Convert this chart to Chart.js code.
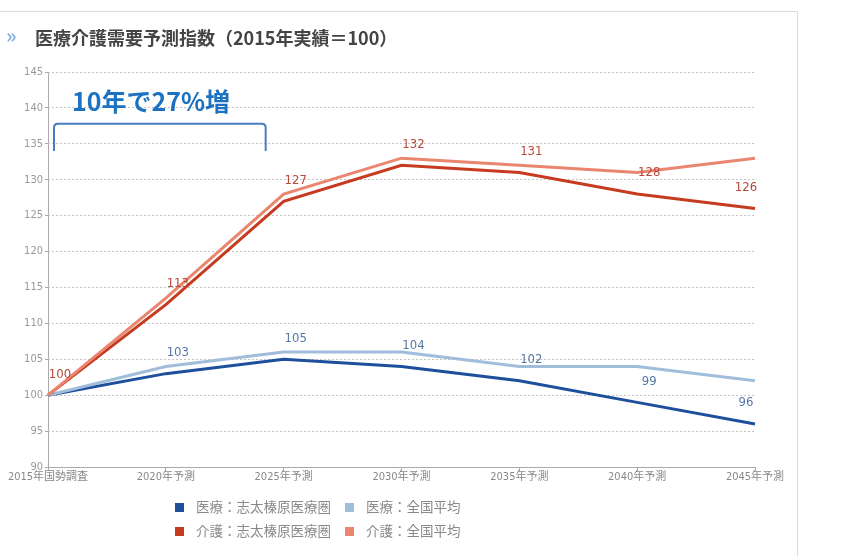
<!DOCTYPE html>
<html>
<head>
<meta charset="utf-8">
<script src="https://cdn.jsdelivr.net/npm/chart.js@4"></script>
<style>
  html, body { margin: 0; padding: 0; background: #fff; }
  #wrap { position: relative; width: 854px; height: 556px; overflow: hidden;
          font-family: "Noto Sans CJK JP", "Noto Sans", sans-serif; }
  #frame { position: absolute; left: -1px; top: 11px; width: 798px; height: 560px;
           border-top: 1px solid #dcdcdc; border-right: 1px solid #dcdcdc; }
  #title { position: absolute; left: 35px; top: 24px; font-size: 18px; font-weight: bold;
           color: #444; white-space: nowrap; line-height: 26px; }
  #mark { position: absolute; left: 6px; top: 22px; font-size: 20px; font-weight: bold;
          color: #8ab2dc; line-height: 26px; }
  #note { position: absolute; left: 72px; top: 85px; font-size: 25px; font-weight: bold;
          color: #1b72c2; white-space: nowrap; line-height: 30px; }
  .lg { position: absolute; font-size: 13.5px; color: #8a8a8a; white-space: nowrap; line-height: 18px; }
  .lg i { display: inline-block; width: 9px; height: 9px; margin-right: 12px; vertical-align: 0px; }
  canvas { position: absolute; left: 0; top: 0; }
</style>
</head>
<body>
<div id="wrap">
  <div id="frame"></div>
  <canvas id="myChart" width="854" height="556"></canvas>
  <div id="mark">»</div>
  <div id="title">医療介護需要予測指数（2015年実績＝100）</div>
  <div id="note">10年で27%増</div>
  <div class="lg" style="left:175px;top:497px"><i style="background:#1d4f9c"></i>医療：志太榛原医療圏</div>
  <div class="lg" style="left:345px;top:497px"><i style="background:#a0bddc"></i>医療：全国平均</div>
  <div class="lg" style="left:175px;top:521px"><i style="background:#c63b20"></i>介護：志太榛原医療圏</div>
  <div class="lg" style="left:345px;top:521px"><i style="background:#ea8570"></i>介護：全国平均</div>
</div>
<script>
// categories and values
var labels = ["2015年国勢調査", "2020年予測", "2025年予測", "2030年予測", "2035年予測", "2040年予測", "2045年予測"];
var iryoLocal = [100, 103, 105, 104, 102, 99, 96];
var iryoNational = [100, 104, 106, 106, 104, 104, 102];
var kaigoLocal = [100, 112.6, 127, 132, 131, 128, 126];
var kaigoNational = [100, 113.5, 128, 133, 132, 131, 133];
var yTicks = [90, 95, 100, 105, 110, 115, 120, 125, 130, 135, 140, 145];

var narrow = "'Liberation Sans Narrow', 'DejaVu Sans Condensed', 'Noto Sans CJK JP', sans-serif";

function line(label, data, color) {
  return {
    label: label,
    data: data,
    borderColor: color,
    backgroundColor: color,
    borderWidth: 3,
    pointRadius: 0,
    tension: 0,
    fill: false
  };
}

// value labels for the 志太榛原 series, plus the bracket under the note
var valueLabels = {
  id: "valueLabels",
  afterDatasetsDraw: function (chart) {
    var ctx = chart.ctx;
    var x = chart.scales.x, y = chart.scales.y;
    ctx.save();
    ctx.font = "13px " + narrow;
    ctx.textAlign = "center";
    ctx.textBaseline = "middle";
    var sets = [
      { data: kaigoLocal, color: "#b5493a", from: 0 },
      { data: iryoLocal, color: "#5577a8", from: 1 }
    ];
    sets.forEach(function (s) {
      ctx.fillStyle = s.color;
      for (var i = s.from; i < s.data.length; i++) {
        var px = x.getPixelForValue(i);
        var py = y.getPixelForValue(s.data[i]);
        var dx = i === s.data.length - 1 ? -9 : 12;
        ctx.fillText(String(Math.round(s.data[i])), px + dx, py - 21);
      }
    });
    var left = x.getPixelForValue(0) + 6;
    var right = x.getPixelForValue(2) - 18;
    var top = y.getPixelForValue(137.8);
    var bottom = y.getPixelForValue(134);
    var r = 4;
    ctx.strokeStyle = "#4a7cc0";
    ctx.lineWidth = 2;
    ctx.beginPath();
    ctx.moveTo(left, bottom);
    ctx.lineTo(left, top + r);
    ctx.quadraticCurveTo(left, top, left + r, top);
    ctx.lineTo(right - r, top);
    ctx.quadraticCurveTo(right, top, right, top + r);
    ctx.lineTo(right, bottom);
    ctx.stroke();
    ctx.restore();
  }
};

var ctx = document.getElementById("myChart").getContext("2d");
var myChart = new Chart(ctx, {
  type: "line",
  data: {
    labels: labels,
    datasets: [
      line("介護：全国平均", kaigoNational, "#ea8570"),
      line("介護：志太榛原医療圏", kaigoLocal, "#c63b20"),
      line("医療：全国平均", iryoNational, "#a0bddc"),
      line("医療：志太榛原医療圏", iryoLocal, "#1d4f9c")
    ]
  },
  options: {
    responsive: false,
    animation: false,
    layout: { padding: { left: 0, top: 72, right: 99, bottom: 0 } },
    plugins: {
      legend: { display: false },
      tooltip: { enabled: false }
    },
    scales: {
      x: {
        offset: false,
        // only the first vertical line is kept: it serves as the solid y axis line
        grid: {
          display: true,
          drawOnChartArea: true,
          color: function (c) { return c.index === 0 ? "#aaa" : "rgba(0,0,0,0)"; },
          tickColor: "#aaa",
          tickLength: 4
        },
        border: { display: true, color: "#aaa", width: 1 },
        ticks: { color: "#888", font: { family: narrow, size: 11 }, padding: 0, maxRotation: 0, autoSkip: false },
        afterFit: function (s) { s.height = 89; }
      },
      y: {
        min: 90,
        max: 145,
        afterBuildTicks: function (s) { s.ticks = yTicks.map(function (v) { return { value: v }; }); },
        grid: { color: "#c4c4c4", tickColor: "#aaa", drawTicks: true, tickLength: 3 },
        border: { display: false, dash: [2, 2] },
        ticks: { color: "#999", font: { family: narrow, size: 11 }, padding: 2 },
        afterFit: function (s) { s.width = 48; }
      }
    }
  },
  plugins: [valueLabels]
});
</script>
</body>
</html>
